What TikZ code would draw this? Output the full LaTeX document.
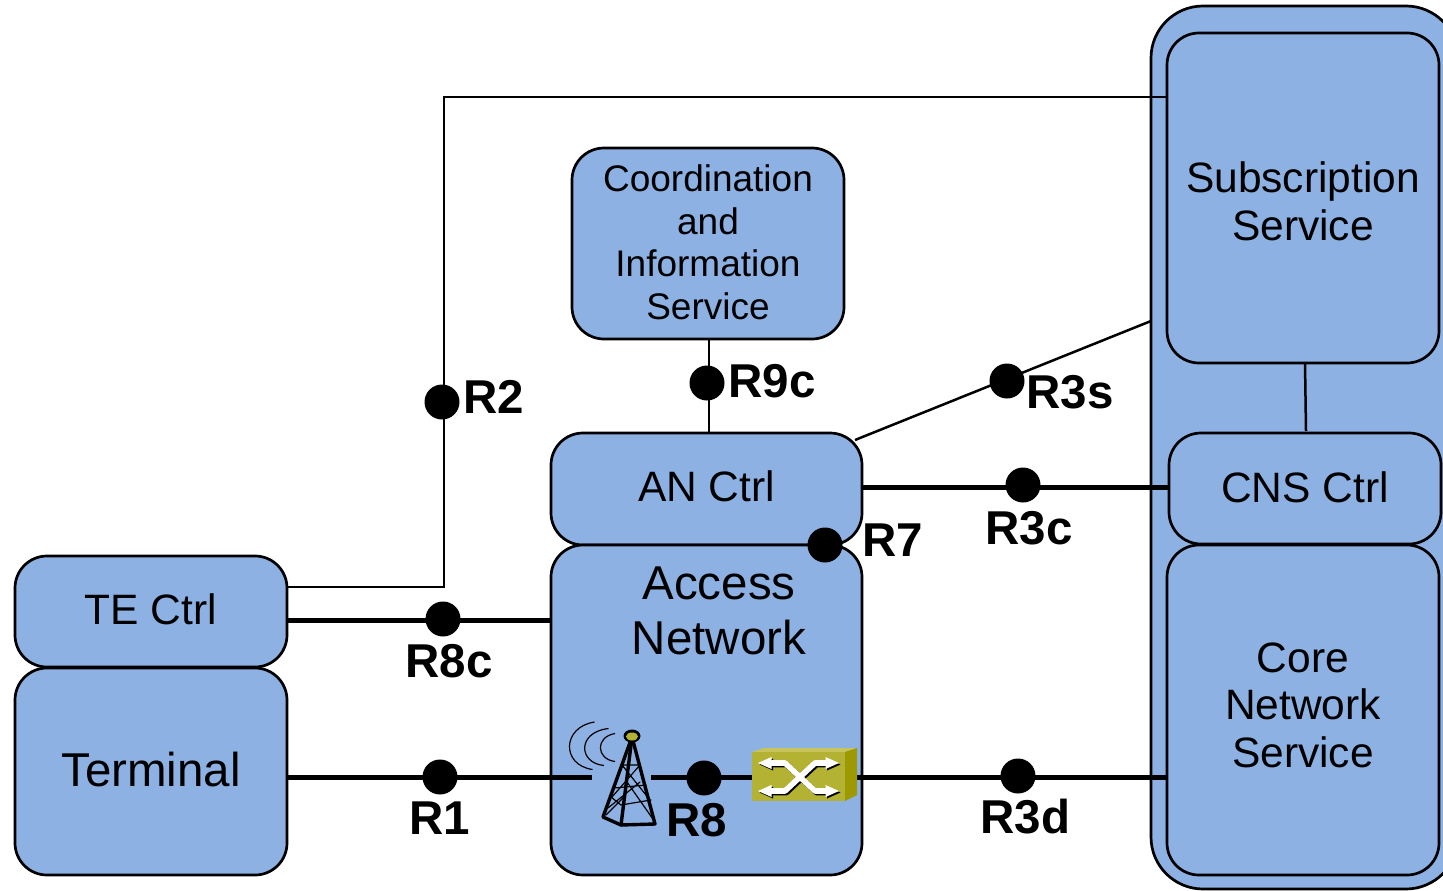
\documentclass[tikz,border=0pt]{standalone}
\usepackage{fontspec}
\setmainfont{Liberation Sans}
\definecolor{boxblue}{HTML}{8DB1E2}
\definecolor{swtop}{HTML}{C6C45A}
\definecolor{swfront}{HTML}{B3B233}
\definecolor{swside}{HTML}{9C9A00}
\newcommand{\pushup}[1]{\rule[-#1]{0pt}{0pt}}
\newcommand{\pushdown}[1]{\rule{0pt}{#1}}
\newcommand{\swglyph}[2]{%
  \begin{scope}[xshift=#1,yshift=#2]
    \draw[line width=5.6pt,line join=round] (768,763) -- (785,763) -- (815,791) -- (830,791);
    \draw[line width=5.6pt,line join=round] (768,791) -- (785,791) -- (815,763) -- (830,763);
  \end{scope}}
\tikzset{
  box/.style={draw=black,fill=boxblue,line width=2.7pt,rounded corners=#1,inner sep=0pt,align=center},
  box/.default=32pt,
  txtA/.style={font=\fontsize{42.5}{47.5}\selectfont},
  txtB/.style={font=\fontsize{37}{42.7}\selectfont},
  txtC/.style={font=\fontsize{47.5}{55}\selectfont},
  thin line/.style={line width=2.5pt},
  thick line/.style={line width=5pt},
  dot/.style={circle,fill=black,inner sep=0pt,minimum size=35pt},
  reflabel/.style={font=\fontsize{47.5}{47.5}\selectfont\bfseries,inner sep=0pt},
  tower/.style={line width=3.4pt,line join=round,line cap=round},
  wave/.style={line width=1.2pt},
}
\begin{document}
\begin{tikzpicture}[x=1pt,y=-1pt]
\useasboundingbox (0,0) rectangle (1443,891);
\clip (0,0) rectangle (1443,891);
\fill[white] (0,0) rectangle (1443,891);

% boxes
\node[box=52pt,minimum width=307pt,minimum height=883pt] (outer) at (1304.5,447.5) {};
\node[box,txtA,minimum width=272pt,minimum height=330pt] (sub) at (1303,198) {\pushdown{37pt}Subscription\\Service};
\node[box,txtA,minimum width=272pt,minimum height=330pt] (core) at (1303,710) {Core\\Network\\Service\pushup{10pt}};
\node[box,txtA,minimum width=272pt,minimum height=111pt] (cns) at (1305,488.5) {CNS Ctrl\pushup{2pt}};
\node[box,txtB,minimum width=272pt,minimum height=191pt] (coord) at (708,243.5) {Coordination\\and\\Information\\Service\pushup{3pt}};
\node[box,txtA,minimum width=311pt,minimum height=112pt] (an) at (706.5,489) {AN Ctrl\pushup{6pt}};
\node[box,minimum width=311pt,minimum height=330pt] (access) at (706.5,710) {};
\node[txtC,align=center,inner sep=0pt] (accesstext) at (719,611) {Access\\Network};
\node[box,txtA,minimum width=272pt,minimum height=111pt] (te) at (151,611.5) {TE Ctrl\pushup{4pt}};
\node[box,font=\fontsize{47.5}{47.5}\selectfont,minimum width=272pt,minimum height=207pt] (term) at (151,771.5) {Terminal\pushup{4pt}};

% reference points
\node[dot] (dR2) at (442,402) {};
\node[dot] (dR8c) at (443,619) {};
\node[dot] (dR1) at (440,777) {};
\node[dot] (dR8) at (704,778) {};
\node[dot] (dR3d) at (1018,776) {};
\node[dot] (dR3c) at (1023,485) {};
\node[dot] (dR3s) at (1007,381) {};
\node[dot] (dR9c) at (707,383) {};
\node[dot] (dR7) at (825,545) {};

% connectors
\coordinate (r2a) at (te.east |- 0,587);
\coordinate (r2b) at (444,587);
\coordinate (r2c) at (444,97);
\coordinate (r2d) at (sub.west |- r2c);
\draw[thin line,line join=miter] (r2a) -- (r2b) -- (r2c) -- (r2d);
\draw[thin line] (709,339) -- (709,433);
\draw[thin line] (1305,363) -- (1306,431);
\coordinate (r3sa) at (855,440);
\coordinate (r3sb) at (1151,321);
\draw[thin line] (r3sa) -- (r3sb);
\draw[thick line] (te.east |- 0,620) -- (access.west |- 0,620);
\draw[thick line] (an.east |- 0,487) -- (cns.west |- 0,487);
\coordinate (towerL) at (592,777.5);
\coordinate (towerR) at (651,777.5);
\coordinate (sw) at (752,777.5);
\coordinate (swR) at (857,777.5);
\draw[thick line] (term.east |- towerL) -- (towerL);
\draw[thick line] (towerR) -- (sw);
\draw[thick line] (swR) -- (core.west |- swR);

% radio tower
\draw[tower] (632,737) -- (603,817) -- (621,825) -- (655,824) -- cycle;
\draw[tower] (632,737) -- (621,825);
\draw[tower,line width=1.2pt]
  (622,765) -- (640,765)
  (622,765) -- (650,800) (640,765) -- (612,797)
  (614,788) -- (646,785)
  (611,797) -- (621,805) -- (651,800)
  (608,808) -- (640,782) (627,782) -- (655,822)
  (606,815) -- (624,797);
\fill[black] (632,736) ellipse (8.5pt and 6.5pt);
\fill[swfront] (632,736.5) ellipse (6pt and 4pt);
\draw[wave] (594.5,722) .. controls (562,727) and (561,765) .. (592.5,769.5);
\draw[wave] (608.5,728.5) .. controls (577,732) and (578,763) .. (604,765.5);
\draw[wave] (615,733.5) .. controls (595,737) and (596,759) .. (615,761.5);

% switch
\fill[swtop] (752,752) -- (764,748) -- (857,748) -- (845,752) -- cycle;
\fill[swside] (845,752) -- (857,748) -- (857,795) -- (845,801) -- cycle;
\fill[swfront] (752,752) rectangle (845,801);
\begin{scope}[black]
  \swglyph{1.5pt}{-1.5pt}
  \fill (759.5,764.5) -- (773,758.5) -- (773,770.5) -- cycle;
  \fill (840.5,764.5) -- (827,758.5) -- (827,770.5) -- cycle;
  \fill (759.5,792.5) -- (773,786.5) -- (773,798.5) -- cycle;
  \fill (840.5,792.5) -- (827,786.5) -- (827,798.5) -- cycle;
\end{scope}
\begin{scope}[white]
  \swglyph{0pt}{0pt}
  \fill (758,763) -- (771.5,757) -- (771.5,769) -- cycle;
  \fill (839,763) -- (825.5,757) -- (825.5,769) -- cycle;
  \fill (758,791) -- (771.5,785) -- (771.5,797) -- cycle;
  \fill (839,791) -- (825.5,785) -- (825.5,797) -- cycle;
\end{scope}

% labels
\node[reflabel] (lR2) at (494,397) {R2};
\node[reflabel] (lR9c) at (772,381) {R9c};
\node[reflabel] (lR3s) at (1070,392) {R3s};
\node[reflabel] (lR3c) at (1029,528) {R3c};
\node[reflabel] (lR7) at (893,540) {R7};
\node[reflabel] (lR8c) at (449,661) {R8c};
\node[reflabel] (lR1) at (439.5,818) {R1};
\node[reflabel] (lR8) at (697,820) {R8};
\node[reflabel] (lR3d) at (1025.5,817) {R3d};
\end{tikzpicture}
\end{document}
